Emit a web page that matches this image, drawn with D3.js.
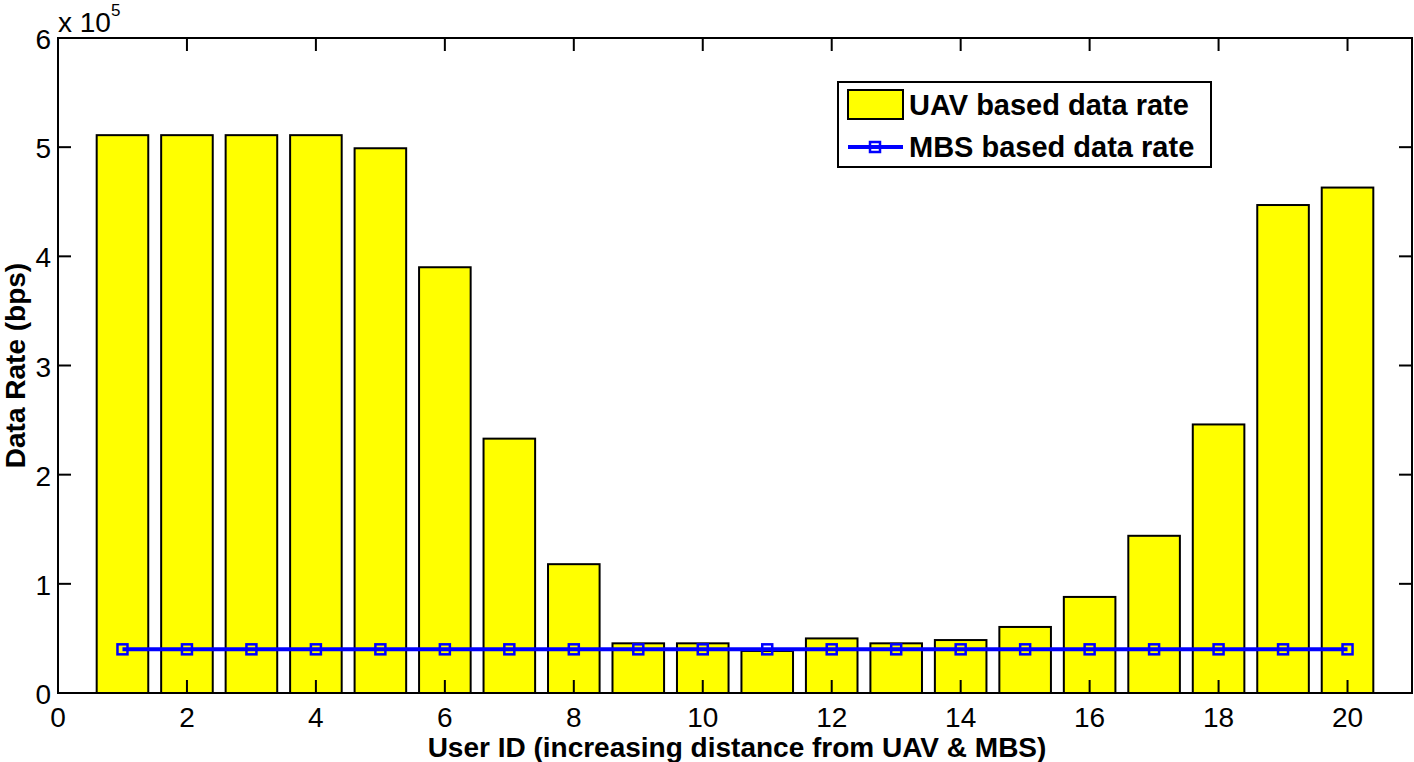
<!DOCTYPE html>
<html>
<head>
<meta charset="utf-8">
<script src="https://cdn.jsdelivr.net/npm/d3@7"></script>
<style>
  body { margin: 0; background: #fff; }
  text { font-family: "Liberation Sans", Arial, sans-serif; }
</style>
</head>
<body>
<svg id="chart" width="1414" height="762"></svg>
<script>
// user ids 1..20
const userIds = [1,2,3,4,5,6,7,8,9,10,11,12,13,14,15,16,17,18,19,20];
// UAV based data rate (bps)
const uavRate = [511000, 511000, 511000, 511000, 499000, 390000, 233000, 118000, 45500, 45500,
                 38500, 50000, 45500, 48500, 60500, 88000, 144000, 246000, 447000, 463000];
// MBS based data rate (bps), flat line
const mbsRate = [40000, 40000, 40000, 40000, 40000, 40000, 40000, 40000, 40000, 40000,
                 40000, 40000, 40000, 40000, 40000, 40000, 40000, 40000, 40000, 40000];
const xTicks = [0, 2, 4, 6, 8, 10, 12, 14, 16, 18, 20];
const yTicks = [0, 1, 2, 3, 4, 5, 6]; // x 10^5
const legendLabels = ["UAV based data rate", "MBS based data rate"];

const svg = d3.select('#chart');
const margin = {left: 58, right: 1412, top: 38, bottom: 693};

const x = d3.scaleLinear().domain([0, 21]).range([margin.left, margin.right]);
const y = d3.scaleLinear().domain([0, 6e5]).range([margin.bottom, margin.top]);
const tickLen = 13;

// bars
svg.selectAll('rect.bar')
    .data(userIds)
    .join('rect')
    .attr('class', 'bar')
    .attr('x', (d) => x(d - 0.4))
    .attr('width', x(0.8) - x(0))
    .attr('y', (d, i) => y(uavRate[i]))
    .attr('height', (d, i) => y(0) - y(uavRate[i]))
    .attr('fill', '#ffff00')
    .attr('stroke', 'black')
    .attr('stroke-width', 2);

// MBS line
const line = d3.line()
    .x((d) => x(d))
    .y((d, i) => y(mbsRate[i]));
svg.append('path')
    .datum(userIds)
    .attr('d', line)
    .attr('fill', 'none')
    .attr('stroke', '#0000ff')
    .attr('stroke-width', 4);

svg.selectAll('rect.mark')
    .data(userIds)
    .join('rect')
    .attr('class', 'mark')
    .attr('x', (d) => x(d) - 5)
    .attr('y', (d, i) => y(mbsRate[i]) - 5)
    .attr('width', 10)
    .attr('height', 10)
    .attr('fill', 'none')
    .attr('stroke', '#0000ff')
    .attr('stroke-width', 2.5);

// axes box
svg.append('rect')
    .attr('x', margin.left)
    .attr('y', margin.top)
    .attr('width', margin.right - margin.left)
    .attr('height', margin.bottom - margin.top)
    .attr('fill', 'none')
    .attr('stroke', 'black')
    .attr('stroke-width', 2);

// x ticks (inward, bottom and top)
const xt = svg.append('g');
xTicks.forEach((t) => {
    xt.append('line').attr('x1', x(t)).attr('x2', x(t))
        .attr('y1', margin.bottom).attr('y2', margin.bottom - tickLen)
        .attr('stroke', 'black').attr('stroke-width', 2);
    xt.append('line').attr('x1', x(t)).attr('x2', x(t))
        .attr('y1', margin.top).attr('y2', margin.top + tickLen)
        .attr('stroke', 'black').attr('stroke-width', 2);
    xt.append('text').attr('x', x(t)).attr('y', margin.bottom + 34)
        .attr('text-anchor', 'middle').attr('font-size', 28).text(t);
});

// y ticks (inward, left and right)
const yt = svg.append('g');
yTicks.forEach((t) => {
    yt.append('line').attr('x1', margin.left).attr('x2', margin.left + tickLen)
        .attr('y1', y(t * 1e5)).attr('y2', y(t * 1e5))
        .attr('stroke', 'black').attr('stroke-width', 2);
    yt.append('line').attr('x1', margin.right).attr('x2', margin.right - tickLen)
        .attr('y1', y(t * 1e5)).attr('y2', y(t * 1e5))
        .attr('stroke', 'black').attr('stroke-width', 2);
    yt.append('text').attr('x', margin.left - 7).attr('y', y(t * 1e5) + 11)
        .attr('text-anchor', 'end').attr('font-size', 28).text(t);
});

// exponent label
const expo = svg.append('text').attr('x', 58).attr('y', 32).attr('font-size', 28);
expo.append('tspan').text('x 10');
expo.append('tspan').attr('dy', -16).attr('font-size', 17).text('5');

// axis labels
svg.append('text')
    .attr('x', (margin.left + margin.right) / 2 + 2)
    .attr('y', 757)
    .attr('text-anchor', 'middle')
    .attr('font-size', 28)
    .attr('font-weight', 'bold')
    .text('User ID (increasing distance from UAV & MBS)');

svg.append('text')
    .attr('transform', `translate(25, ${(margin.top + margin.bottom) / 2}) rotate(-90)`)
    .attr('text-anchor', 'middle')
    .attr('font-size', 28)
    .attr('font-weight', 'bold')
    .text('Data Rate (bps)');

// legend
const lg = svg.append('g');
lg.append('rect').attr('x', 838).attr('y', 82).attr('width', 373).attr('height', 85)
    .attr('fill', 'white').attr('stroke', 'black').attr('stroke-width', 2);
lg.append('rect').attr('x', 848).attr('y', 90).attr('width', 55).attr('height', 29)
    .attr('fill', '#ffff00').attr('stroke', 'black').attr('stroke-width', 2);
lg.append('line').attr('x1', 848).attr('x2', 903).attr('y1', 147).attr('y2', 147)
    .attr('stroke', '#0000ff').attr('stroke-width', 4);
lg.append('rect').attr('x', 870).attr('y', 142).attr('width', 10).attr('height', 10)
    .attr('fill', 'none').attr('stroke', '#0000ff').attr('stroke-width', 2.5);
legendLabels.forEach((s, i) => {
    lg.append('text').attr('x', 909).attr('y', 115 + i * 42)
        .attr('font-size', 29).attr('font-weight', 'bold').text(s);
});
</script>
</body>
</html>
